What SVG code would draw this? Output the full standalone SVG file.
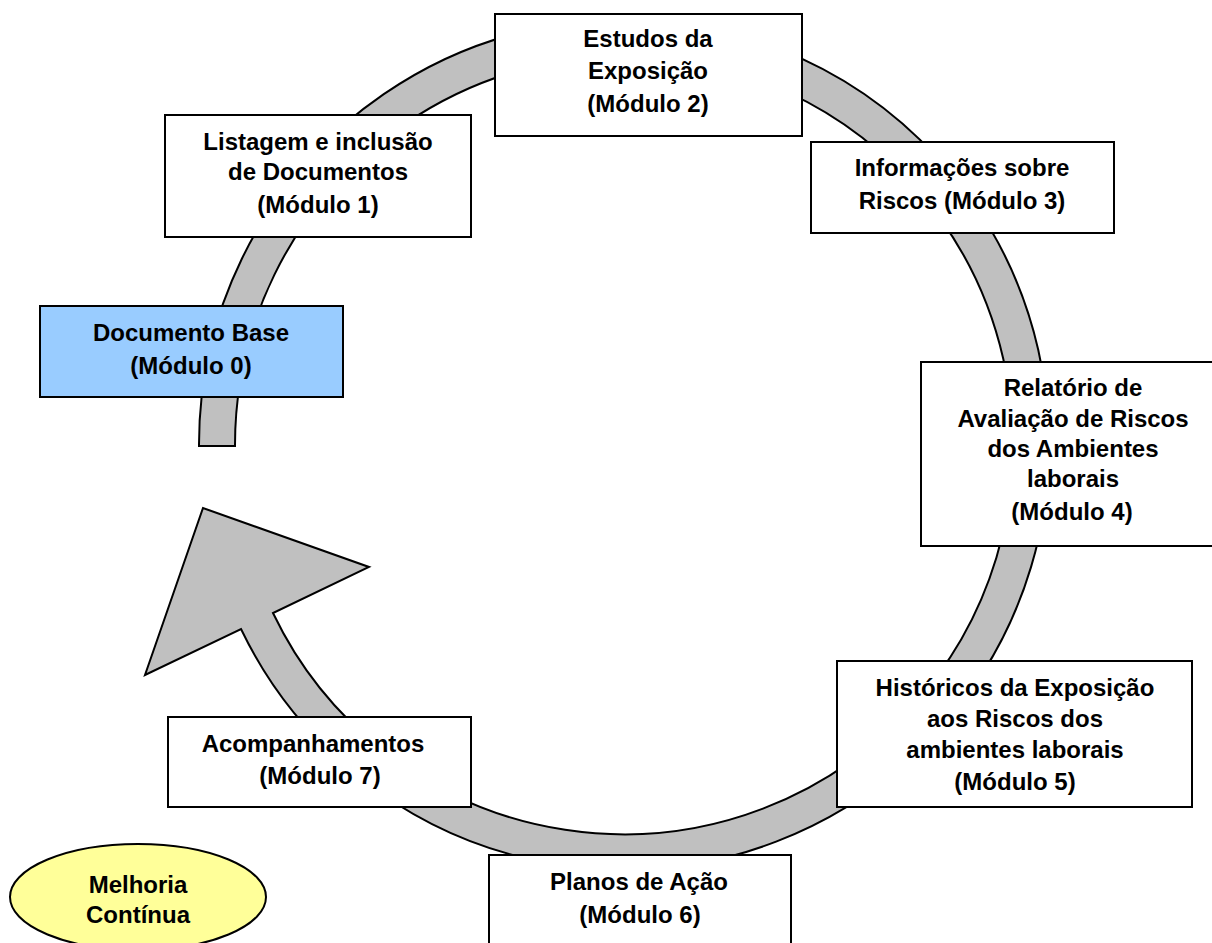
<svg xmlns="http://www.w3.org/2000/svg" width="1212" height="943" viewBox="0 0 1212 943">
<style>
.b{fill:#fff;stroke:#000;stroke-width:2}
text{font-family:"Liberation Sans",Arial,sans-serif;font-weight:700;font-size:24px;fill:#000;text-anchor:middle}
</style>
<rect width="1212" height="943" fill="#fff"/>
<g id="connectors">
<path id="cycle-arrow" d="M199 446A425 425 0 1 1 241 629L145 675L203 508L369 567L273 613A389 389 0 1 0 235 446Z" fill="#c0c0c0" stroke="#000" stroke-width="2" stroke-linejoin="miter"/>
</g>
<g id="n2"><rect class="b" x="495" y="14" width="307" height="122"/><text x="648" y="47">Estudos da</text><text x="648" y="79">Exposição</text><text x="648" y="112">(Módulo 2)</text></g>
<g id="n3"><rect class="b" x="811" y="142" width="303" height="91"/><text x="962" y="176">Informações sobre</text><text x="962" y="209">Riscos (Módulo 3)</text></g>
<g id="n4"><rect class="b" x="921" y="362" width="295" height="184"/><text x="1073" y="396">Relatório de</text><text x="1073" y="427">Avaliação de Riscos</text><text x="1073" y="457">dos Ambientes</text><text x="1073" y="487">laborais</text><text x="1072" y="520">(Módulo 4)</text></g>
<g id="n5"><rect class="b" x="837" y="661" width="355" height="146"/><text x="1015" y="696">Históricos da Exposição</text><text x="1015" y="727">aos Riscos dos</text><text x="1015" y="758">ambientes laborais</text><text x="1015" y="790">(Módulo 5)</text></g>
<g id="n6"><rect class="b" x="489" y="855" width="302" height="100"/><text x="639" y="890">Planos de Ação</text><text x="640" y="923">(Módulo 6)</text></g>
<g id="n7"><rect class="b" x="168" y="717" width="303" height="90"/><text x="313" y="752">Acompanhamentos</text><text x="320" y="784">(Módulo 7)</text></g>
<g id="n1"><rect class="b" x="165" y="115" width="306" height="122"/><text x="318" y="150">Listagem e inclusão</text><text x="318" y="180">de Documentos</text><text x="318" y="213">(Módulo 1)</text></g>
<g id="n0"><rect x="40" y="306" width="303" height="91" fill="#99ccff" stroke="#000" stroke-width="2"/><text x="191" y="341">Documento Base</text><text x="191" y="374">(Módulo 0)</text></g>
<g id="n8"><ellipse cx="138" cy="897" rx="128" ry="53" fill="#ffff99" stroke="#000" stroke-width="2"/><text x="138" y="893">Melhoria</text><text x="138" y="923">Contínua</text></g>
</svg>
